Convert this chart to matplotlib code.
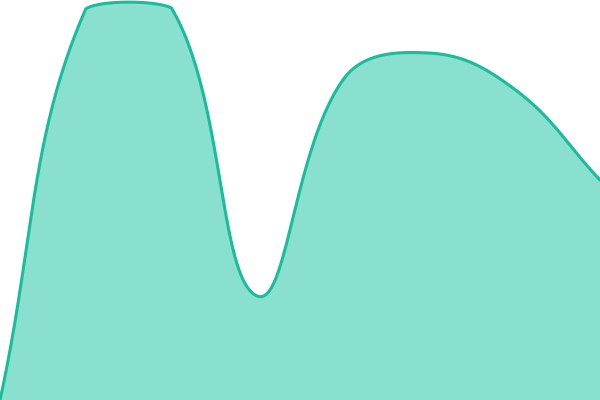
import numpy as np
import matplotlib
matplotlib.use("Agg")
import matplotlib.pyplot as plt

# Data (y axis runs 0..400)
labels = ["A", "B", "C", "D", "E", "F", "G", "H"]
values = [0, 391, 392, 104, 320, 347, 311, 220]

W, H = 600, 400
Y_MAX = 400
TENSION = 0.4


def spline_path(xs, ys, tension=TENSION, n=60):
    # Chart.js style spline with control points capped to the chart area
    pts = np.column_stack([xs, ys]).astype(float)
    cnt = len(pts)
    cp_prev = pts.copy()
    cp_next = pts.copy()
    for i in range(cnt):
        prev = pts[i - 1] if i > 0 else pts[i]
        cur = pts[i]
        nxt = pts[i + 1] if i < cnt - 1 else pts[i]
        d01 = np.hypot(*(cur - prev))
        d12 = np.hypot(*(nxt - cur))
        tot = d01 + d12
        s01 = d01 / tot if tot else 0
        s12 = d12 / tot if tot else 0
        fa = tension * s01
        fb = tension * s12
        cp_prev[i] = cur - fa * (nxt - prev)
        cp_next[i] = cur + fb * (nxt - prev)
    # cap to area
    for cp in (cp_prev, cp_next):
        cp[:, 0] = np.clip(cp[:, 0], 0, W)
        cp[:, 1] = np.clip(cp[:, 1], 0, H)
    t = np.linspace(0, 1, n)[:, None]
    out = []
    for i in range(cnt - 1):
        p0, p1, p2, p3 = pts[i], cp_next[i], cp_prev[i + 1], pts[i + 1]
        seg = ((1 - t) ** 3) * p0 + 3 * ((1 - t) ** 2) * t * p1 \
            + 3 * (1 - t) * t ** 2 * p2 + t ** 3 * p3
        out.append(seg if i == 0 else seg[1:])
    out = np.vstack(out)
    return out[:, 0], out[:, 1]


# pixel space (y down) like the canvas
idx = np.arange(len(values))
px = idx * W / (len(values) - 1)
py = H - np.array(values) * H / Y_MAX
sx, sy = spline_path(px, py)

# back to data units
dx = sx * (len(values) - 1) / W
dy = (H - sy) * Y_MAX / H

fig = plt.figure(figsize=(6, 4), dpi=100)
ax = fig.add_axes([0, 0, 1, 1])
ax.fill_between(dx, dy, 0, color="#89e0cf", linewidth=0)
ax.plot(dx, dy, color="#1abc9c", linewidth=2.2, solid_capstyle="round")
ax.set_xlim(0, len(values) - 1)
ax.set_ylim(0, Y_MAX)
ax.axis("off")

plt.savefig("out.png", dpi=100)
